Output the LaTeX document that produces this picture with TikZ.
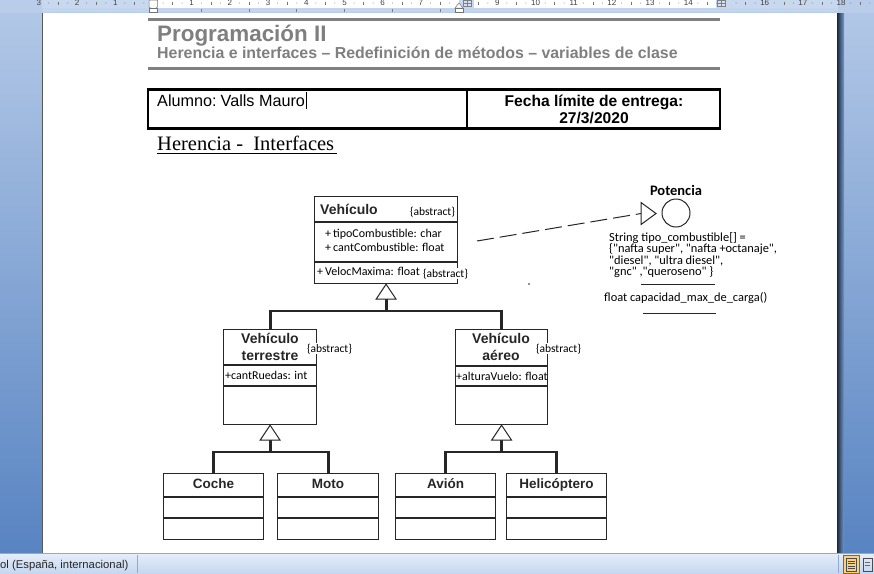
\documentclass[tikz,border=0pt]{standalone}
\usepackage{fontspec}
\setmainfont{Liberation Sans}
\newfontfamily\serifface{Liberation Serif}
\newfontfamily\umlface{Carlito}
\usetikzlibrary{calc}

\definecolor{ink}{HTML}{262626}
\definecolor{headgray}{HTML}{7F7F7F}
\definecolor{rulegray}{HTML}{808080}
\definecolor{frameA}{HTML}{B4C9E8}
\definecolor{frameB}{HTML}{7599CD}
\definecolor{frameC}{HTML}{5884C2}
\definecolor{rulerblue}{HTML}{B9CDEB}
\definecolor{rulerband}{HTML}{C8D8EF}
\definecolor{statusA}{HTML}{E6EEF9}
\definecolor{statusB}{HTML}{C5D7EF}
\definecolor{statusline}{HTML}{8EA9D2}
\definecolor{iconorange}{HTML}{F8D27E}

\newcommand\setpx[1]{\fontsize{#1}{#1}\selectfont}

\begin{document}
\begin{tikzpicture}[x=1pt,y=-1pt,
  classbox/.style={draw=ink, line width=1.2pt, fill=white, inner sep=0pt,
    anchor=north west},
  sepline/.style={draw=ink, line width=1.1pt},
  bus/.style={draw=ink, line width=2.8pt},
  gentri/.style={draw=ink, line width=1pt, fill=white, line join=miter},
  umltext/.style={inner sep=0pt, font=\umlface\setpx{12}, text=black},
  ifctext/.style={inner sep=0pt, font=\umlface\setpx{12.4}, text=black},
  abstag/.style={inner sep=0.8pt, font=\umlface\setpx{11.5}, text=black, fill=white},
  clsname/.style={inner sep=0pt, font=\bfseries\setpx{14}, text=ink},
  plain/.style={inner sep=0pt},
  rulernum/.style={inner sep=0pt, font=\setpx{8}, text=black!75},
]
\useasboundingbox (0,0) rectangle (874,573);

% ---------- window frame ----------
\shade[top color=frameA, middle color=frameB, bottom color=frameC]
  (0,0) rectangle (874,553);
\fill[white] (43,13) rectangle (837,553);
\draw[black!65, line width=1.2pt] (42.6,13) -- (42.6,553);
\shade[left color=black!70!frameC, right color=frameB] (837,13) rectangle (844,553);

% ---------- ruler ----------
\fill[rulerblue] (0,0) rectangle (874,13);
\fill[rulerband] (42,0) rectangle (838,8);
\fill[white] (153,0) rectangle (459,8);
\fill[white] (474,0) rectangle (716,8);
\fill[frameA!80!white] (42,8) rectangle (838,12);
\foreach \n in {-3,-2,-1,1,2,...,7,9,10,...,14,16,17,18} {
  \pgfmathtruncatemacro\lab{abs(\n)}
  \node[rulernum, anchor=base] (rn\lab\n) at ({153.5+38.2*\n},5.5) {\lab};
}
\foreach \k in {-3,...,18} {
  \foreach \q in {0.25,0.75} {
    \fill[black!55] ({153.5+38.2*(\k+\q)},3) circle (0.5);
  }
  \draw[black!55, line width=0.5pt] ({153.5+38.2*(\k+0.5)},1.5) -- ++(0,3);
}
\foreach \k in {1,...,6} {
  \draw[black!50, line width=0.6pt] ({153.5+47.75*\k},8.5) -- ++(0,3);
}
% indent and column markers
\filldraw[fill=white, draw=black!55, line width=0.5pt]
  (149,0) -- (157.5,0) -- (157.5,7) -- (153.25,10) -- (149,7) -- cycle;
\filldraw[fill=white, draw=black!55, line width=0.5pt]
  (149,8) rectangle (157.5,12);
\filldraw[fill=white, draw=black!55, line width=0.5pt]
  (455,8) -- (459,3) -- (463,8) -- cycle;
\filldraw[fill=white, draw=black!55, line width=0.5pt]
  (455,8) rectangle (463,12);
\foreach \cx in {467,721} {
  \filldraw[fill=rulerblue!60!white, draw=black!50, line width=0.4pt]
    (\cx-4,0.5) rectangle (\cx+4,6.5);
  \draw[black!50, line width=0.4pt] (\cx-4,3.5) -- (\cx+4,3.5)
    (\cx,0.5) -- (\cx,6.5);
}

% ---------- status bar ----------
\shade[top color=statusA, bottom color=statusB] (0,553) rectangle (874,573);
\draw[statusline, line width=0.8pt] (0,553.4) -- (874,553.4);
\draw[statusline, line width=0.8pt] (137,555) -- (137,573);
\draw[statusline, line width=0.8pt] (838,555) -- (838,573);
\node[plain, anchor=base west, font=\setpx{11.3}, text=black!85] (lang)
  at (0,568) {ol (España, internacional)};
\filldraw[fill=iconorange, draw=orange!70!black, line width=0.6pt]
  (843,555.5) rectangle (859.5,573);
\draw[black!70, line width=0.6pt] (846.5,558.5) rectangle (856,571);
\foreach \yy in {561,563.5,566,568.5} {
  \draw[black!70, line width=0.5pt] (848,\yy) -- (854.5,\yy);
}
\draw[black!70, line width=0.6pt] (863,558.5) -- (872,558.5) -- (872,571)
  -- (863,571) -- cycle;
\draw[black!60, line width=0.5pt] (865,562) -- (870,562) (865,565) -- (870,565);

% ---------- document header ----------
\fill[rulegray] (148,17.5) rectangle (720,21);
\node[plain, anchor=base west, font=\bfseries\setpx{22.4}, text=headgray]
  (course) at (157,41) {Programación II};
\node[plain, anchor=base west, font=\bfseries\setpx{15.9}, text=headgray]
  (topic) at (157,58.5)
  {Herencia e interfaces -- Redefinición de métodos -- variables de clase};
\fill[rulegray] (148,66.5) rectangle (720,70);

% ---------- student / deadline table ----------
\draw[black, line width=2.6pt] (148,89.5) rectangle (720,128.5);
\draw[black, line width=2.6pt] (467,89.5) -- (467,128.5);
\node[plain, anchor=base west, font=\setpx{16.2}] (student) at (157,106)
  {Alumno:\hspace{-0.12em} Valls Mauro};
\draw[black, line width=1pt] (306.5,92) -- (306.5,109);
\node[plain, anchor=base, font=\bfseries\setpx{15.6}] (deadline) at (594,106)
  {Fecha límite de entrega:};
\node[plain, anchor=base, font=\bfseries\setpx{15.6}] (date) at (594,123)
  {27/3/2020};

\node[plain, anchor=base west, font=\serifface\setpx{20.5}] (section)
  at (157,150) {Herencia -\ \ Interfaces};
\draw[black, line width=0.9pt] (157,153) -- (337,153);

% ---------- class Vehículo ----------
\node[classbox, minimum width=143pt, minimum height=87pt] (veh) at (314,196) {};
\draw[sepline] (veh.west |- 0,222) -- (veh.east |- 0,222);
\draw[sepline] (veh.west |- 0,262) -- (veh.east |- 0,262);
\node[clsname, anchor=base west] (vehN) at (320,214) {Vehículo};
\node[abstag, anchor=base west] (vehT) at (409,215) {\{abstract\}};
\node[umltext, anchor=base west] (vehA1) at (325,237) {+\,tipoCombustible: char};
\node[umltext, anchor=base west] (vehA2) at (325,251) {+\,cantCombustible: float};
\node[umltext, anchor=base west] (vehO1) at (317,275) {+\,VelocMaxima: float};
\node[abstag, anchor=base west] (vehO1T) at (422,277) {\{abstract\}};

% ---------- class Vehículo terrestre ----------
\node[classbox, minimum width=93pt, minimum height=95pt] (ter) at (223,329) {};
\draw[sepline] (ter.west |- 0,365) -- (ter.east |- 0,365);
\draw[sepline] (ter.west |- 0,386) -- (ter.east |- 0,386);
\node[clsname, anchor=base] (terN1) at (270,343) {Vehículo};
\node[clsname, anchor=base] (terN2) at (270,360) {terrestre};
\node[abstag, anchor=base west] (terT) at (306,352) {\{abstract\}};
\node[umltext, anchor=base west] (terA1) at (225,379) {+cantRuedas: int};

% ---------- class Vehículo aéreo ----------
\node[classbox, minimum width=92pt, minimum height=95pt] (aer) at (455,329) {};
\draw[sepline] (aer.west |- 0,366) -- (aer.east |- 0,366);
\draw[sepline] (aer.west |- 0,386) -- (aer.east |- 0,386);
\node[clsname, anchor=base] (aerN1) at (501,343) {Vehículo};
\node[clsname, anchor=base] (aerN2) at (501,360) {aéreo};
\node[abstag, anchor=base west] (aerT) at (535,352) {\{abstract\}};
\node[umltext, anchor=base west] (aerA1) at (456,380) {+alturaVuelo: float};

% ---------- leaf classes ----------
\foreach \nm/\lx/\bw/\txt in {coche/163/100/Coche, moto/277/101/Moto,
    avion/395/100/Avión, heli/506/100/Helicóptero} {
  \node[classbox, minimum width=\bw pt, minimum height=66pt] (\nm) at (\lx,473) {};
  \draw[sepline] (\nm.west |- 0,497) -- (\nm.east |- 0,497);
  \draw[sepline] (\nm.west |- 0,518) -- (\nm.east |- 0,518);
  \node[clsname, font=\bfseries\setpx{13.5}, anchor=base] (\nm N)
    at (\nm.north |- 0,488) {\txt};
}

% ---------- generalization connectors ----------
\coordinate (busTop) at (veh.south |- 0,311);
\draw[bus] (ter.north) -- (ter.north |- busTop) -- (aer.north |- busTop) -- (aer.north);
\draw[bus] (busTop) -- ($(veh.south)+(0,15)$);
\draw[gentri] (veh.south) -- ++(-10,15) -- ++(20,0) -- cycle;

\coordinate (busLeft) at (ter.south |- 0,452);
\draw[bus] (coche.north) -- (coche.north |- busLeft) -- (moto.north |- busLeft) -- (moto.north);
\draw[bus] (busLeft) -- ($(ter.south)+(0,15)$);
\draw[gentri] (ter.south) -- ++(-10,15) -- ++(20,0) -- cycle;

\coordinate (busRight) at (aer.south |- 0,452);
\draw[bus] (avion.north) -- (avion.north |- busRight) -- (heli.north |- busRight) -- (heli.north);
\draw[bus] (busRight) -- ($(aer.south)+(0,15)$);
\draw[gentri] (aer.south) -- ++(-10,15) -- ++(20,0) -- cycle;

% ---------- interface Potencia ----------
\node[draw=ink, line width=1pt, circle, minimum size=28pt, inner sep=0pt]
  (pot) at (676,213) {};
\node[plain, anchor=base, font=\umlface\bfseries\setpx{14.5}] (potN) at (676,195)
  {Potencia};
\coordinate (realTip) at (641,213.5);
\coordinate (dashStart) at (477,241);
\draw[ink, line width=1pt, dash pattern=on 17pt off 6pt] (dashStart) -- (realTip);
\draw[gentri] (realTip) ++(0,-11) -- ++(15,11) -- ++(-15,11) -- cycle;

\node[ifctext, anchor=base west] (potA1) at (609,241) {String tipo\_combustible[] =};
\node[ifctext, anchor=base west] (potA2) at (609,252.5)
  {\{"nafta super", "nafta +octanaje",};
\node[ifctext, anchor=base west] (potA3) at (609,264) {"diesel", "ultra diesel",};
\node[ifctext, anchor=base west] (potA4) at (609,275.5) {"gnc" ,"queroseno" \}};
\draw[ink, line width=0.9pt] (641,284.5) -- (715,284.5);
\node[ifctext, anchor=base west] (potO1) at (604,301) {float capacidad\_max\_de\_carga()};
\draw[ink, line width=0.9pt] (643,313) -- (716,313);

\fill[ink] (529,284) circle (0.9);

\end{tikzpicture}
\end{document}
